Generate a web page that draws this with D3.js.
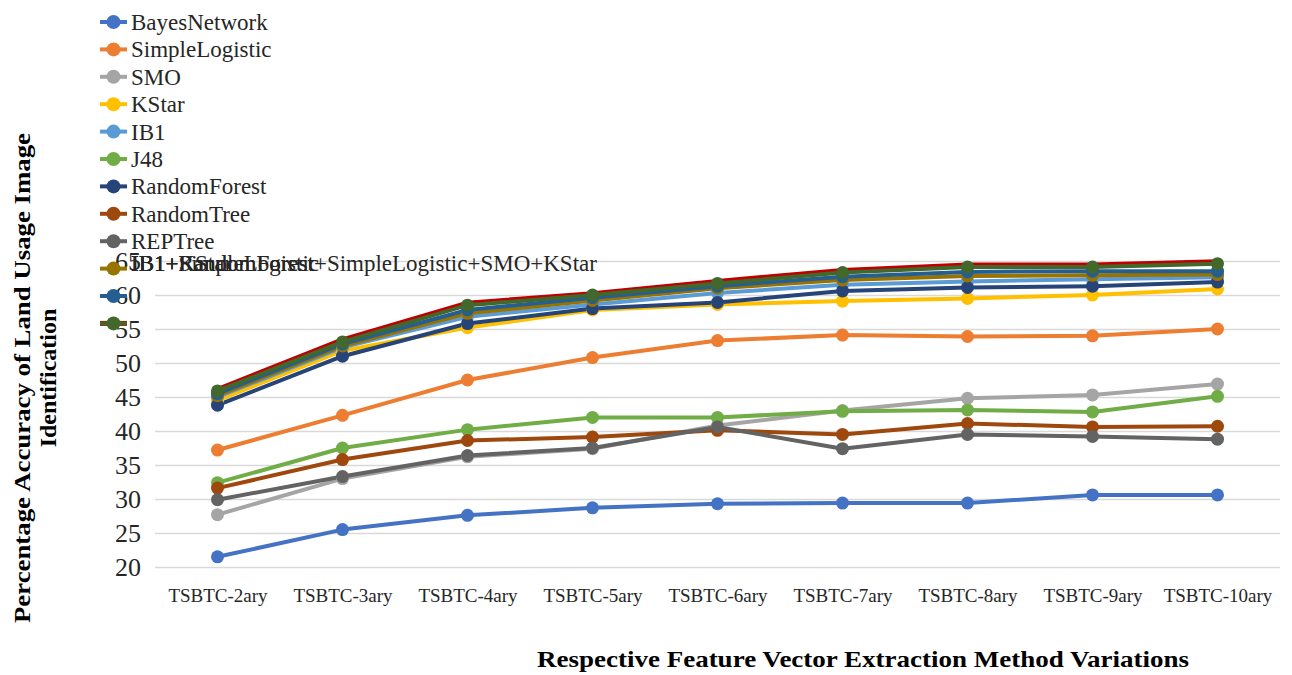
<!DOCTYPE html>
<html>
<head>
<meta charset="utf-8">
<title>Land Usage Image Identification</title>
<style>
  body { margin: 0; background: #fff; }
</style>
</head>
<body>
<script src="https://cdn.jsdelivr.net/npm/d3@7/dist/d3.min.js"></script>
<script>
// canvas
let width = 1292,
    height = 675;
let serif = '"Liberation Serif", "Times New Roman", serif';

let svg = d3.select('body').append('svg')
    .attr('width', width).attr('height', height)
    .attr('font-family', serif);

// plot area
let plot = { left: 155, right: 1280, top: 261, bottom: 567 };

// data
let categories = ['TSBTC-2ary', 'TSBTC-3ary', 'TSBTC-4ary', 'TSBTC-5ary', 'TSBTC-6ary',
                  'TSBTC-7ary', 'TSBTC-8ary', 'TSBTC-9ary', 'TSBTC-10ary'];
let yTicks = [20, 25, 30, 35, 40, 45, 50, 55, 60, 65];

let bayesNetwork   = [21.5, 25.5, 27.6, 28.7, 29.3, 29.4, 29.4, 30.6, 30.6];
let simpleLogistic = [37.2, 42.3, 47.5, 50.8, 53.3, 54.1, 53.9, 54.0, 55.0];
let smo            = [27.7, 33.0, 36.2, 37.4, 40.8, 43.0, 44.8, 45.3, 46.9];
let kStar          = [44.5, 51.8, 55.2, 57.8, 58.6, 59.1, 59.5, 60.0, 60.9];
let ib1            = [45.0, 52.3, 56.8, 58.6, 60.3, 61.5, 62.0, 62.3, 62.6];
let j48            = [32.4, 37.5, 40.2, 42.0, 42.0, 42.9, 43.1, 42.8, 45.1];
let randomForest   = [43.8, 51.0, 55.8, 58.0, 58.9, 60.6, 61.1, 61.3, 61.9];
let randomTree     = [31.6, 35.8, 38.6, 39.1, 40.1, 39.5, 41.1, 40.6, 40.7];
let repTree        = [29.9, 33.3, 36.4, 37.5, 40.6, 37.4, 39.5, 39.2, 38.8];
let ib1RandomForest  = [45.2, 52.5, 57.3, 59.2, 61.0, 62.2, 62.8, 62.9, 63.0];
let ib1KStar         = [45.5, 52.8, 57.8, 59.6, 61.3, 62.7, 63.4, 63.5, 63.5];
let ib1SimpleLogistic = [46.1, 53.4, 58.8, 60.2, 62.0, 63.6, 64.4, 64.4, 64.9];
let ib1Combined      = [45.9, 53.1, 58.5, 60.0, 61.7, 63.3, 64.1, 64.1, 64.6];

// series list (colour / marker settings)
let series = [
  { name: 'BayesNetwork', values: bayesNetwork, color: '#4472C4' },
  { name: 'SimpleLogistic', values: simpleLogistic, color: '#ED7D31' },
  { name: 'SMO', values: smo, color: '#A5A5A5' },
  { name: 'KStar', values: kStar, color: '#FFC000' },
  { name: 'IB1', values: ib1, color: '#5B9BD5' },
  { name: 'J48', values: j48, color: '#70AD47' },
  { name: 'RandomForest', values: randomForest, color: '#264478' },
  { name: 'RandomTree', values: randomTree, color: '#9E480E' },
  { name: 'REPTree', values: repTree, color: '#636363' },
  { name: 'IB1+RandomForest', values: ib1RandomForest, color: '#997300' },
  { name: 'IB1+KStar', values: ib1KStar, color: '#255E91' },
  { name: 'IB1+SimpleLogistic', values: ib1SimpleLogistic, color: '#C00000', noMarker: true, lineWidth: 5 },
  { name: 'IB1+RandomForest+SimpleLogistic+SMO+KStar', values: ib1Combined, color: '#43682B' }
];

// scales
let xScale = d3.scalePoint()
    .domain(categories)
    .range([plot.left, plot.right])
    .padding(0.5);

let yScale = d3.scaleLinear()
    .domain([20, 65])
    .range([plot.bottom, plot.top]);

// y axis with gridlines
let yAxis = d3.axisLeft(yScale)
    .tickValues(yTicks)
    .tickSize(-(plot.right - plot.left))
    .tickPadding(14);

let yg = svg.append('g')
    .attr('transform', 'translate(' + plot.left + ',0)')
    .call(yAxis)
    .attr('font-family', serif)
    .attr('font-size', 26);
yg.select('.domain').remove();
yg.selectAll('.tick line').attr('stroke', '#d9d9d9').attr('stroke-width', 1.5);
yg.selectAll('.tick text').attr('fill', '#262626');

// x axis
let xAxis = d3.axisBottom(xScale).tickSize(0).tickPadding(22);
let xg = svg.append('g')
    .attr('transform', 'translate(0,' + plot.bottom + ')')
    .call(xAxis)
    .attr('font-family', serif)
    .attr('font-size', 19);
xg.select('.domain').remove();
xg.selectAll('.tick text').attr('fill', '#262626');

// lines first, then markers on top
let line = d3.line()
    .x(function(d, i) { return xScale(categories[i]); })
    .y(function(d) { return yScale(d); });

svg.append('g').selectAll('path')
    .data(series)
    .enter()
    .append('path')
    .attr('d', function(d) { return line(d.values); })
    .attr('fill', 'none')
    .attr('stroke', function(d) { return d.color; })
    .attr('stroke-width', function(d) { return d.lineWidth || 4; })
    .attr('stroke-linejoin', 'round');

series.forEach(function(s) {
  if (s.noMarker) return;
  svg.append('g').selectAll('circle')
      .data(s.values)
      .enter()
      .append('circle')
      .attr('cx', function(d, i) { return xScale(categories[i]); })
      .attr('cy', function(d) { return yScale(d); })
      .attr('r', 6.5)
      .attr('fill', s.color);
});

// axis titles
svg.append('text')
    .attr('x', 863)
    .attr('y', 667)
    .attr('text-anchor', 'middle')
    .attr('textLength', 652)
    .attr('lengthAdjust', 'spacingAndGlyphs')
    .attr('font-size', 24)
    .attr('font-weight', 'bold')
    .text('Respective Feature Vector Extraction Method Variations');

let yTitle = svg.append('text')
    .attr('transform', 'translate(30,378) rotate(-90)')
    .attr('text-anchor', 'middle')
    .attr('font-size', 24)
    .attr('font-weight', 'bold');
yTitle.append('tspan').attr('x', 0).attr('y', 0)
    .attr('textLength', 490).attr('lengthAdjust', 'spacingAndGlyphs')
    .text('Percentage Accuracy of Land Usage Image');
yTitle.append('tspan').attr('x', 0).attr('y', 26).text('Identification');

// legend (the last entries collapse onto one text row, as in the source)
let legend = svg.append('g');
series.forEach(function(s, i) {
  let rowY = 22 + Math.min(i, 11) * 27.4;
  let textY = i < 9 ? rowY : 263;
  let item = legend.append('g');
  item.append('line')
      .attr('x1', 100).attr('x2', 127)
      .attr('y1', rowY).attr('y2', rowY)
      .attr('stroke', s.color)
      .attr('stroke-width', s.lineWidth || 4);
  if (!s.noMarker) {
    item.append('circle')
        .attr('cx', 113.5).attr('cy', rowY)
        .attr('r', 7)
        .attr('fill', s.color);
  }
  item.append('text')
      .attr('x', 131)
      .attr('y', textY)
      .attr('dy', '0.35em')
      .attr('fill', '#262626')
      .attr('font-size', 23)
      .text(s.name);
});
</script>
</body>
</html>
